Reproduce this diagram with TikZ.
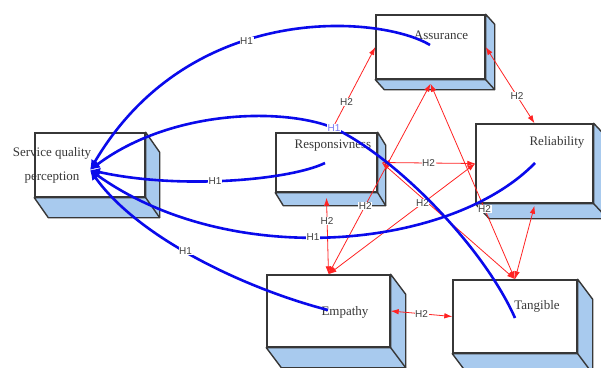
\documentclass[tikz,border=0pt]{standalone}
\usepackage{fontspec}
\setmainfont{Liberation Serif}
\setsansfont{Liberation Sans}
\usepackage{tikz}
\usetikzlibrary{arrows.meta,calc}

\definecolor{boxside}{RGB}{168,202,238}
\definecolor{boxline}{RGB}{55,55,55}
\definecolor{hblue}{RGB}{10,10,235}
\definecolor{hred}{RGB}{255,35,35}

\tikzset{
    factor/.style={draw=boxline, line width=1.4pt, fill=white, inner sep=0pt},
    factortext/.style={text=black!78, font=\fontsize{13}{24}\selectfont, align=center},
    hone/.style={hblue, line width=2.6pt, -{Latex[length=10pt,width=9pt]}},
    htwo/.style={hred, line width=0.8pt,
        {Latex[length=8pt,width=5.5pt]}-{Latex[length=8pt,width=5.5pt]}},
    hlabel/.style={fill=white, inner sep=0.6pt, text=black!75,
        font=\sffamily\fontsize{10}{10}\selectfont},
}

% right and bottom faces of a box
\newcommand{\boxdepth}[3]{%
    \filldraw[boxside, draw=boxline, line width=1.4pt, line join=round]
        (#1.north east) -- ++(#2,#3) -- ($(#1.south east)+(#2,#3)$)
        -- ($(#1.south west)+(#2,#3)$) -- (#1.south west)
        -- (#1.south east) -- cycle;
    \draw[boxline, line width=1.4pt] (#1.south east) -- ++(#2,#3);
}

\begin{document}
\begin{tikzpicture}[x=1pt,y=-1pt]

        \useasboundingbox (0,0) rectangle (601,367);
        \clip (0,0) rectangle (601,367);

        % Service quality perception
        \node [factor,
        minimum width=110pt,
        minimum height=64pt
            ] (sqp) at (90,165) {};
        \boxdepth{sqp}{14}{20}
        \node [factortext] (sqp-txt) at (52,165) {Service quality\\perception};

        % Assurance
        \node [factor,
        minimum width=109pt,
        minimum height=64pt
            ] (assur) at (430.5,47) {};
        \boxdepth{assur}{9}{10}
        \node [factortext] (assur-txt) at (441,35) {Assurance};

        % Responsivness
        \node [factor,
        minimum width=101pt,
        minimum height=59pt
            ] (resp) at (326.5,162.5) {};
        \boxdepth{resp}{8}{13}
        \node [factortext] (resp-txt) at (333,146) {Responsivness};

        % Reliability
        \node [factor,
        minimum width=117pt,
        minimum height=79pt
            ] (relia) at (534.5,163.5) {};
        \boxdepth{relia}{14}{15}
        \node [factortext] (relia-txt) at (557,142) {Reliability};

        % Empathy
        \node [factor,
        minimum width=123pt,
        minimum height=72pt
            ] (empa) at (328.5,311) {};
        \boxdepth{empa}{15}{20}
        \node [factortext] (empa-txt) at (345,312) {Empathy};

        % Tangible
        \node [factor,
        minimum width=124pt,
        minimum height=73pt
            ] (tang) at (515,316.5) {};
        \boxdepth{tang}{15}{20}
        \node [factortext] (tang-txt) at (537,306) {Tangible};

        % H2 links
        \draw[htwo] ([xshift=4pt]resp.north) -- (assur.west)
            node[pos=0.36, hlabel]{H2};
        \draw[htwo] (assur.east) -- (relia.north)
            node[pos=0.64, hlabel]{H2};
        \draw[htwo] ([yshift=-4pt]assur.south) -- (empa.north)
            node[pos=0.64, hlabel]{H2};
        \draw[htwo] ([yshift=-4pt]assur.south) -- (tang.north)
            node[pos=0.64, hlabel]{H2};
        \draw[htwo] ([xshift=4pt]resp.east) -- (tang.north);
        \draw[htwo] (relia.west) -- (empa.north)
            node[pos=0.36, hlabel]{H2};
        \draw[htwo] ([xshift=4pt]resp.east) -- (relia.west)
            node[midway, hlabel]{H2};
        \draw[htwo] ([yshift=-5pt]resp.south) -- (empa.north)
            node[pos=0.3, hlabel]{H2};
        \draw[htwo] ([yshift=-2pt]relia.south) -- (tang.north);
        \draw[htwo] (empa.east) -- (tang.west)
            node[midway, hlabel]{H2};

        % H1 links
        \coordinate (sqp-in) at (90,170);
        \coordinate (assur-in) at (430,45);
        \coordinate (resp-in) at (325,163);
        \coordinate (relia-in) at (535,163);
        \coordinate (empa-in) at (328,310);
        \coordinate (tang-in) at (515,318);
        \coordinate (bend) at (334,128);

        \draw[hone] (assur-in) .. controls (380,15) and (190,0) .. (sqp-in)
            node[pos=0.58, hlabel]{H1};
        \draw[hone] (tang-in) .. controls (485,250) and (400,160) .. (bend)
            .. controls (282,107) and (170,110) .. (sqp-in);
        \node[hlabel, text=hblue!55] (bend-lbl) at (bend) {H1};
        \draw[hone] (resp-in) .. controls (290,180) and (180,190) .. (sqp-in)
            node[pos=0.55, hlabel]{H1};
        \draw[hone] (relia-in) .. controls (450,250) and (230,270) .. (sqp-in)
            node[pos=0.54, hlabel]{H1};
        \draw[hone] (empa-in) .. controls (250,290) and (140,240) .. (sqp-in)
            node[pos=0.55, hlabel]{H1};

\end{tikzpicture}
\end{document}
